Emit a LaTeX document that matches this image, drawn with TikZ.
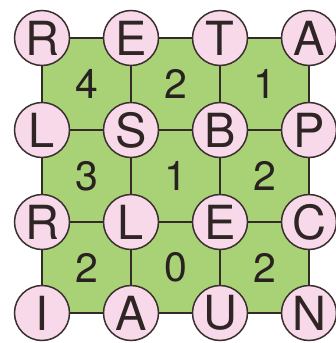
\documentclass[tikz,border=0pt]{standalone}
\usepackage{fontspec}
\setmainfont{TeX Gyre Heros}
\definecolor{boardgreen}{HTML}{A9D277}
\definecolor{dotpink}{HTML}{F8D9EA}
\definecolor{rimbrown}{HTML}{3B2F2F}
\tikzset{
  letterdot/.style={circle, draw=rimbrown, fill=dotpink, line width=1.5pt, minimum size=55pt, inner sep=0pt, text=rimbrown!80!black, font=\fontsize{47}{47}\selectfont},
  sumlabel/.style={text=rimbrown!70!black, font=\fontsize{41}{41}\selectfont},
  gridline/.style={draw=rimbrown!90!black, line width=1.5pt}
}

\begin{document}
\begin{tikzpicture}[x=1pt,y=-1pt]
	\useasboundingbox (0,0) rectangle (336,343);
	\fill[boardgreen] (42,38) rectangle (309,313);
	
	% letters, row by row
	\foreach \ch [count=\c] in {R,E,T,A} \node[letterdot] (d1\c) at ({42+89*(\c-1)},38) {\ch};
	\foreach \ch [count=\c] in {L,S,B,P} \node[letterdot] (d2\c) at ({42+89*(\c-1)},130) {\ch};
	\foreach \ch [count=\c] in {R,L,E,C} \node[letterdot] (d3\c) at ({42+89*(\c-1)},222) {\ch};
	\foreach \ch [count=\c] in {I,A,U,N} \node[letterdot] (d4\c) at ({42+89*(\c-1)},313) {\ch};
	
	% grid
	\foreach \r in {1,2,3,4} {
		\foreach \c/\nc in {1/2,2/3,3/4} {
			\draw[gridline] (d\r\c) -- (d\r\nc);
			\draw[gridline] (d\c\r) -- (d\nc\r);
		}
	}
	
	% numbers in the squares
	\foreach \v [count=\c] in {4,2,1} \node[sumlabel] (s1\c) at ({86.5+89*(\c-1)},84) {\v};
	\foreach \v [count=\c] in {3,1,2} \node[sumlabel] (s2\c) at ({86.5+89*(\c-1)},176) {\v};
	\foreach \v [count=\c] in {2,0,2} \node[sumlabel] (s3\c) at ({86.5+89*(\c-1)},267.5) {\v};
\end{tikzpicture}
\end{document}
